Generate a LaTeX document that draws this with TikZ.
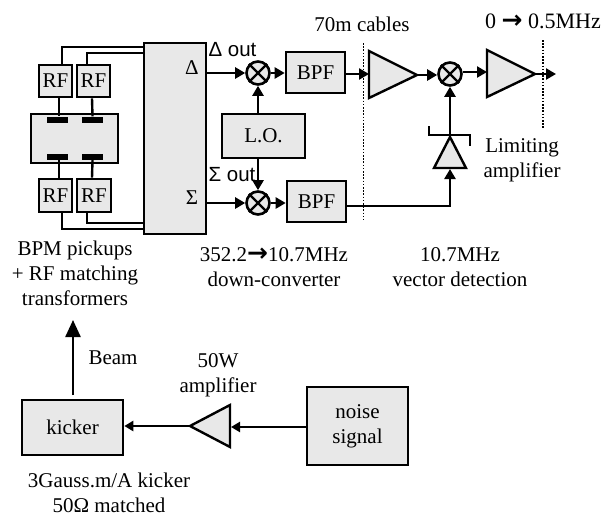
\documentclass[tikz,border=0pt]{standalone}
\usepackage{fontspec}
\setmainfont{Liberation Serif}
\newfontfamily\arialfont{Liberation Sans}
\newfontfamily\arrowfont{DejaVu Sans Bold}
\newcommand{\bigarrow}{{\arrowfont\fontsize{25}{25}\selectfont →}}
\usetikzlibrary{arrows.meta,calc}
\definecolor{boxgray}{HTML}{E8E8E8}
\tikzset{
  blockbox/.style={draw=black,fill=boxgray,line width=2.6pt,inner sep=0pt},
  mixer/.style={draw=black,fill=boxgray,circle,line width=2.6pt,minimum size=23pt,inner sep=0pt},
  ampshape/.style={draw=black,fill=boxgray,line width=2.4pt,line join=miter},
  wire/.style={line width=2.4pt},
  sig/.style={line width=2.4pt,-{Triangle[length=10pt,width=11pt]}},
  elec/.style={fill=black,draw=none,minimum width=21pt,minimum height=6pt,inner sep=0pt},
  dots/.style={line width=1.6pt,dash pattern=on 1.6pt off 1.6pt},
  lab/.style={inner sep=0pt,align=center,font=\fontsize{21}{25}\selectfont},
  sanslab/.style={inner sep=0pt,font=\arialfont\fontsize{20.5}{24}\selectfont}
}
\begin{document}
\begin{tikzpicture}[x=1pt,y=-1pt]
\useasboundingbox (0,0) rectangle (616,517);
% boxes
\node[blockbox,minimum width=62pt,minimum height=191pt] (big) at (175,138.5) {};
\node[blockbox,minimum width=33pt,minimum height=32pt,lab] (rfa) at (55.5,81) {RF};
\node[blockbox,minimum width=33pt,minimum height=32pt,lab] (rfb) at (93.5,81) {RF};
\node[blockbox,minimum width=33pt,minimum height=33pt,lab] (rfc) at (55.5,195.5) {RF};
\node[blockbox,minimum width=34pt,minimum height=33pt,lab] (rfd) at (94,195.5) {RF};
\node[blockbox,minimum width=87pt,minimum height=49pt] (pick) at (74.5,138.5) {};
\node[elec] (ea) at (57.5,119.5) {};
\node[elec] (eb) at (92.5,119.5) {};
\node[elec] (ec) at (57.5,157) {};
\node[elec] (ed) at (92.5,157) {};
\node[blockbox,minimum width=83pt,minimum height=44pt,lab] (lo) at (263.5,136) {L.O.};
\node[blockbox,minimum width=59pt,minimum height=41pt,lab] (bpfa) at (315.5,72.5) {BPF};
\node[blockbox,minimum width=59pt,minimum height=41pt,lab] (bpfb) at (316.5,201.5) {BPF};
\node[mixer] (mxa) at (258,73) {};
\node[mixer] (mxb) at (258,203) {};
\node[mixer] (mxc) at (450,74) {};
\foreach \m in {mxa,mxb,mxc}{
  \draw[wire] (\m.45) -- (\m.225);
  \draw[wire] (\m.135) -- (\m.315);
}
\node[blockbox,minimum width=101pt,minimum height=55pt,lab] (kick) at (72.5,427.5) {kicker};
\node[blockbox,minimum width=101pt,minimum height=78pt,lab] (noise) at (357.5,426) {noise\\[0pt]signal};
% amplifiers
\draw[ampshape] (369,51) -- (369,98) -- (417,75) -- cycle;
\draw[ampshape] (487,50) -- (487,97) -- (535,74) -- cycle;
\draw[ampshape] (450,137) -- (434,168) -- (466,168) -- cycle;
\draw[ampshape] (190,426) -- (230,405) -- (230,447) -- cycle;
\coordinate (ampain) at (369,74);
\coordinate (ampaout) at (417,75);
\coordinate (ampbin) at (487,72);
\coordinate (ampbout) at (535,74);
\coordinate (end) at (556,74);
\coordinate (limtop) at (450,137);
\coordinate (limin) at (450,169);
\coordinate (bpfbout) at (346,206);
\coordinate (pain) at (231,427);
\coordinate (paout) at (190,426);
\coordinate (beamtop) at (73,320);
\coordinate (beambot) at (73,395);
% dotted lines
\coordinate (dta) at (363.5,43);
\coordinate (dtb) at (363.5,220);
\coordinate (dtc) at (543,40);
\coordinate (dtd) at (543,128);
% wiring
\draw[wire] ([xshift=6.5pt]rfa.north) |- ([yshift=-5.5pt]big.north west);
\draw[wire] ([xshift=-6.5pt]rfb.north) |- ([yshift=-11pt]big.north west);
\draw[wire] ([xshift=6.5pt]rfc.south) |- ([yshift=6.5pt]big.south west);
\draw[wire] ([xshift=-7pt]rfd.south) |- ([yshift=12.5pt]big.south west);
\draw[wire] ([xshift=3.5pt]rfa.south) -- ([xshift=1.5pt]ea.north);
\draw[wire] ([xshift=-1.5pt]rfb.south) -- (eb.north);
\draw[wire] ([xshift=3.5pt]rfc.north) -- ([xshift=1.5pt]ec.south);
\draw[wire] ([xshift=-2pt]rfd.north) -- (ed.south);
% signals
\draw[sig] (big.east |- mxa.west) -- (mxa.west);
\draw[sig] (big.east |- mxb.west) -- (mxb.west);
\draw[sig] (mxa.east) -- (bpfa.west |- mxa.east);
\draw[sig] (mxb.east) -- (bpfb.west |- mxb.east);
\draw[sig] (lo.north -| mxa.south) -- (mxa.south);
\draw[sig] (lo.south -| mxb.north) -- (mxb.north);
\draw[sig] (bpfa.east |- ampain) -- (ampain);
\draw[sig] (ampaout) -- (mxc.west |- ampaout);
\draw[sig] (mxc.east |- ampbin) -- (ampbin);
\draw[sig] (ampbout) -- (end);
\draw[sig] (limtop) -- (mxc.south);
\draw[sig] (bpfbout) -| (limin);
\draw[wire] (429,126) -- (429,135) -- (470,135) -- (470,146);
\draw[sig,-{Triangle[length=17pt,width=15pt]}] (beambot) -- (beamtop);
\draw[sig,-{Triangle[length=9pt,width=10pt]}] (noise.west |- pain) -- (pain);
\draw[sig,-{Triangle[length=9pt,width=10pt]}] (paout) -- (kick.east |- paout);
\draw[dots] (dta) -- (dtb);
\draw[dots] (dtc) -- (dtd);
% labels
\node[lab] (tdelta) at (192,68) {Δ};
\node[lab] (tsigma) at (192,198) {Σ};
\node[sanslab] (tdo) at (232.5,50) {Δ out};
\node[sanslab] (tso) at (232,175) {Σ out};
\node[lab] (t70) at (362,24) {70m cables};
\node[lab,font=\fontsize{22}{25}\selectfont,anchor=east] (t05) at (601,21) {0 \bigarrow{} 0.5MHz};
\node[lab] (tlim) at (522,160) {Limiting\\amplifier};
\node[lab] (tdown) at (274,267) {352.2\bigarrow{}10.7MHz\\down-converter};
\node[lab] (tvec) at (460,267) {10.7MHz\\vector detection};
\node[lab] (tbpm) at (75,273) {BPM pickups\\+ RF matching\\transformers};
\node[lab] (tbeam) at (113,358) {Beam};
\node[lab] (t50w) at (218,375) {50W\\amplifier};
\node[lab] (tgauss) at (109,492.5) {3Gauss.m/A kicker\\50Ω matched};
\end{tikzpicture}
\end{document}
